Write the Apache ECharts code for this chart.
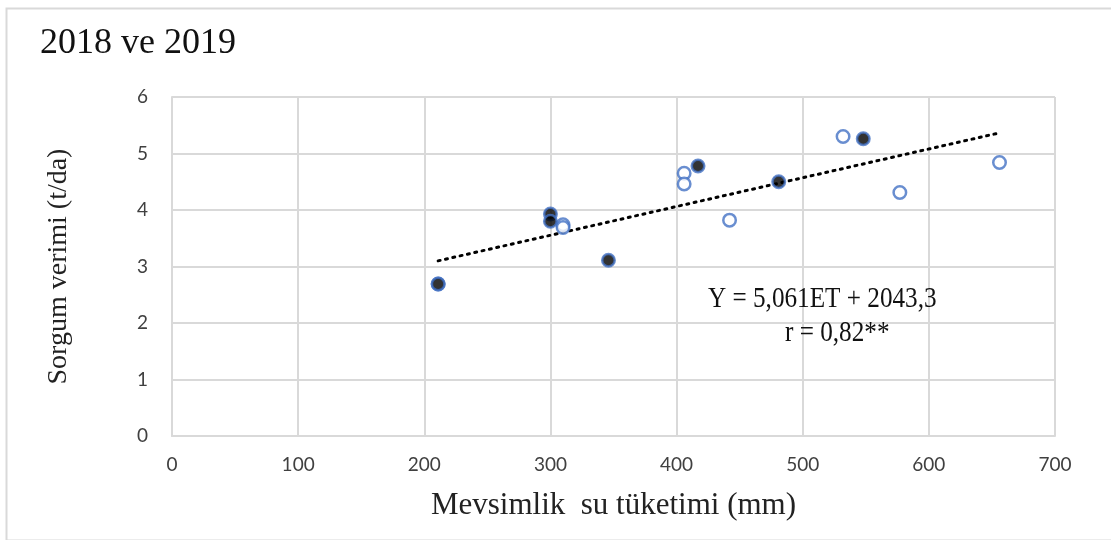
<!DOCTYPE html>
<html>
<head>
<meta charset="utf-8">
<script src="https://cdn.jsdelivr.net/npm/echarts@6/dist/echarts.min.js"></script>
<style>
  html, body { margin: 0; padding: 0; background: #fff; }
  #chart { width: 1111px; height: 540px; }
</style>
</head>
<body>
<div id="chart"></div>
<script>
// 2018 - dolu noktalar
const filledEt = [211, 300, 300, 346, 417, 481, 548];
const filledYield = [2.69, 3.93, 3.80, 3.11, 4.78, 4.50, 5.26];
// 2019 - boş noktalar
const openEt = [211, 310, 310, 406, 406, 442, 532, 577, 656];
const openYield = [2.69, 3.74, 3.69, 4.65, 4.46, 3.82, 5.30, 4.31, 4.84];
// doğrusal eğilim
const trendEt = [211, 657];
const trendYield = [3.10, 5.37];

const xTicks = [0, 100, 200, 300, 400, 500, 600, 700];
const yTicks = [0, 1, 2, 3, 4, 5, 6];

const zip = (a, b) => a.map((v, i) => [v, b[i]]);

var chart = echarts.init(document.getElementById('chart'));
var serif = '"Liberation Serif", "Times New Roman", serif';
var sans = 'Lato, "Open Sans", sans-serif';
var gridColor = '#d9d9d9';

let option = {
  animation: false,
  backgroundColor: '#fff',
  grid: { left: 172, right: 56, top: 97, bottom: 104 },
  xAxis: {
    type: 'value',
    min: xTicks[0],
    max: xTicks[xTicks.length - 1],
    interval: 100,
    name: 'Mevsimlik  su tüketimi (mm)',
    nameLocation: 'middle',
    nameGap: 54,
    nameTextStyle: { fontFamily: serif, fontSize: 31, color: '#222' },
    axisLine: { show: true, lineStyle: { color: gridColor, width: 2 } },
    axisTick: { show: false },
    axisLabel: { color: '#404040', fontFamily: sans, fontSize: 19, margin: 19 },
    splitLine: { show: true, lineStyle: { color: gridColor, width: 2 } }
  },
  yAxis: {
    type: 'value',
    min: yTicks[0],
    max: yTicks[yTicks.length - 1],
    interval: 1,
    name: 'Sorgum verimi (t/da)',
    nameLocation: 'middle',
    nameGap: 99,
    nameTextStyle: { fontFamily: serif, fontSize: 28, color: '#222' },
    axisLine: { show: true, lineStyle: { color: gridColor, width: 2 } },
    axisTick: { show: false },
    axisLabel: { color: '#404040', fontFamily: sans, fontSize: 19, margin: 24 },
    splitLine: { show: true, lineStyle: { color: gridColor, width: 2 } }
  },
  graphic: [
    {
      type: 'rect', left: 4, top: 6, z: -1,
      shape: { width: 1200, height: 532 },
      style: { fill: 'none', stroke: '#d9d9d9', lineWidth: 2 }
    },
    {
      type: 'text', left: 40, top: 26,
      style: { text: '2018 ve 2019', font: '36px ' + serif, fill: '#111' }
    },
    {
      type: 'text', x: 708, y: 284, scaleX: 0.84, z: 10,
      style: { text: 'Y = 5,061ET + 2043,3', font: '30px ' + serif, fill: '#111', verticalAlign: 'top' }
    },
    {
      type: 'text', x: 785, y: 318, scaleX: 0.84, z: 10,
      style: { text: 'r = 0,82**', font: '30px ' + serif, fill: '#111', verticalAlign: 'top' }
    }
  ],
  series: [
    {
      name: 'trend',
      type: 'line',
      data: zip(trendEt, trendYield),
      symbol: 'none',
      lineStyle: { color: '#000', width: 3, type: [2, 5.5], cap: 'round' },
      z: 1
    },
    {
      name: '2019',
      type: 'scatter',
      data: zip(openEt, openYield),
      symbol: 'circle',
      symbolSize: 12.5,
      itemStyle: { color: '#fff', borderColor: '#4472c4', borderWidth: 2.5 },
      z: 2
    },
    {
      name: '2018',
      type: 'scatter',
      data: zip(filledEt, filledYield),
      symbol: 'circle',
      symbolSize: 12.5,
      itemStyle: { color: '#000', borderColor: '#4472c4', borderWidth: 2.5 },
      z: 3
    }
  ]
};

chart.setOption(option);
</script>
</body>
</html>
